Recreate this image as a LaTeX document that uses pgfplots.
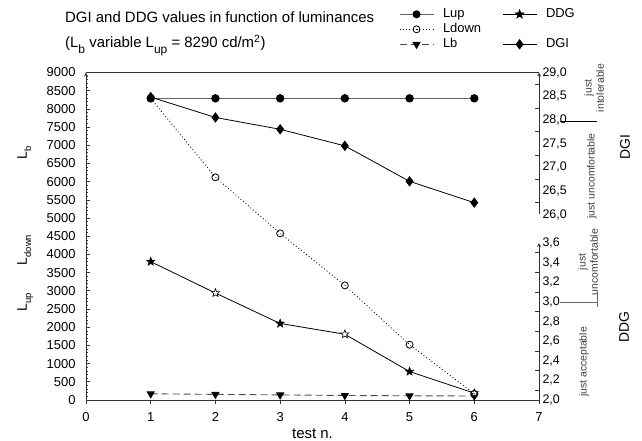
\documentclass[border=0pt]{standalone}
\usepackage{fontspec}
\setmainfont{Liberation Sans}
\usepackage{pgfplots}
\usepackage{pgfplotstable}
\pgfplotsset{compat=1.18}
\usetikzlibrary{plotmarks}

\pgfplotstableread{
x Lup Ldown Lb DGI DDG
1 8290 8290 170 28.48 3.41
2 8290 6120 155 28.05 3.09
3 8290 4580 140 27.80 2.78
4 8290 3150 125 27.45 2.67
5 8290 1520 115 26.70 2.29
6 8290 170 110 26.25 2.07
}\data

\pgfdeclareplotmark{fstar}{%
  \pgfpathmoveto{\pgfqpointpolar{90}{\pgfplotmarksize}}%
  \pgfpathlineto{\pgfqpointpolar{126}{0.42\pgfplotmarksize}}%
  \pgfpathlineto{\pgfqpointpolar{162}{\pgfplotmarksize}}%
  \pgfpathlineto{\pgfqpointpolar{198}{0.42\pgfplotmarksize}}%
  \pgfpathlineto{\pgfqpointpolar{234}{\pgfplotmarksize}}%
  \pgfpathlineto{\pgfqpointpolar{270}{0.42\pgfplotmarksize}}%
  \pgfpathlineto{\pgfqpointpolar{306}{\pgfplotmarksize}}%
  \pgfpathlineto{\pgfqpointpolar{342}{0.42\pgfplotmarksize}}%
  \pgfpathlineto{\pgfqpointpolar{18}{\pgfplotmarksize}}%
  \pgfpathlineto{\pgfqpointpolar{54}{0.42\pgfplotmarksize}}%
  \pgfpathclose
  \pgfusepathqfillstroke
}

\newcommand\sub[1]{\raisebox{-0.35em}{\fontsize{12}{12}\selectfont #1}}
\newcommand\ssub[1]{\raisebox{-0.3em}{\fontsize{9.5}{10}\selectfont #1}}
\definecolor{axgray}{gray}{0.2}

\pgfplotsset{
  every axis/.append style={
    scale only axis, width=453bp,
    xmin=0, xmax=7,
    axis line style={-, axgray, line width=0.8bp},
    tick style={axgray, line width=0.7bp},
    /pgf/number format/assume math mode=true,
    tick label style={font=\fontsize{12.5}{14}\selectfont},
  },
  legimg/.style={legend image code/.code={%
    \draw[mark repeat=2,mark phase=2,##1] plot coordinates {(0bp,0bp) (17bp,0bp) (34bp,0bp)};}},
}

\begin{document}
\begin{tikzpicture}
\useasboundingbox (-86bp,-41bp) rectangle (556bp,400bp);

% ---------- main luminance axis ----------
\begin{axis}[
  name=A, at={(0,0)}, anchor=south west,
  height=327.5bp,
  ymin=0, ymax=9000,
  axis x line=box, axis y line=left,
  xtick={0,...,7}, xtick pos=left, xtick align=outside,
  ytick={0,500,...,9000}, minor y tick num=4, ytick align=inside,
  major tick length=4bp, minor tick length=2.5bp,
  /pgf/number format/set thousands separator={},
  yticklabel style={xshift=-7bp, font=\fontsize{13}{14}\selectfont},
  xticklabel style={yshift=-5bp, font=\fontsize{13}{14}\selectfont},
  xlabel={test n.}, xlabel style={font=\fontsize{15}{17}\selectfont, yshift=0bp},
  legend columns=2, legend cell align=left,
  legend style={at={(0.684,1.205)}, anchor=north west, draw=none, fill=none,
    font=\fontsize{13}{14}\selectfont,
    nodes={inner sep=1bp, text height=9bp, text depth=2.5bp},
    row sep=1.5bp,
    /tikz/every odd column/.append style={column sep=8bp},
    /tikz/every even column/.append style={column sep=20bp}},
  legimg,
  clip=false,
]
\addlegendimage{gray!80!black, line width=1bp, mark=*, mark size=3.5bp, mark options={fill=black, draw=black}}
\addlegendentry{Lup}
\addlegendimage{black, line width=0.8bp, mark=fstar, mark size=4.3bp, mark options={fill=black, solid}}
\addlegendentry{DDG}
\addlegendimage{black, line width=0.8bp, dash pattern=on 0.9bp off 2.4bp, mark=o, mark size=3.5bp, mark options={solid, fill=white}}
\addlegendentry{Ldown}
\addlegendimage{empty legend}
\addlegendentry{}
\addlegendimage{black!70, line width=0.9bp, dash pattern=on 7bp off 4bp, mark=triangle*, mark size=4bp, mark options={solid, fill=black, draw=black, rotate=180}}
\addlegendentry{Lb}
\addlegendimage{black, line width=0.8bp, mark=diamond*, mark size=4.6bp, mark options={fill=black}}
\addlegendentry{DGI}

\addplot[forget plot, gray!80!black, line width=1.2bp, mark=*, mark size=3.6bp, mark options={fill=black, draw=black}] table[x=x, y=Lup] {\data};
\addplot[forget plot, black!70, line width=0.9bp, dash pattern=on 7bp off 4bp, mark=triangle*, mark size=4bp, mark options={solid, fill=black, draw=black, rotate=180}] table[x=x, y=Lb] {\data};
\end{axis}

% ---------- DDG axis (lower right) ----------
\begin{axis}[
  at={(453bp,0bp)}, anchor=south east,
  height=157bp,
  ymin=2, ymax=3.6,
  axis x line=none, axis y line=right,
  xtick=\empty,
  ytick={2,2.2,...,3.61}, minor y tick num=1,
  major tick length=0bp, minor tick length=4bp, ytick align=inside,
  /pgf/number format/.cd, use comma, fixed, fixed zerofill, precision=1,
]
\addplot[black, line width=0.8bp] table[x=x, y=DDG] {\data};
\addplot[only marks, black, mark=fstar, mark size=4.3bp, mark options={fill=black, line width=0.6bp}, x filter/.expression={mod(x,2)==1 ? x : nan}] table[x=x, y=DDG] {\data};
\addplot[only marks, black, mark=fstar, mark size=4.3bp, mark options={fill=white, line width=0.6bp}, x filter/.expression={mod(x,2)==0 ? x : nan}] table[x=x, y=DDG] {\data};
\end{axis}

% ---------- DGI axis (upper right) ----------
\begin{axis}[
  at={(453bp,327.5bp)}, anchor=north east,
  height=142bp,
  ymin=26, ymax=29,
  axis x line=none, axis y line=right,
  xtick=\empty,
  ytick={26,26.5,...,29.01}, minor y tick num=1,
  major tick length=0bp, minor tick length=4bp, ytick align=inside,
  /pgf/number format/.cd, use comma, fixed, fixed zerofill, precision=1,
]
\addplot[black, line width=0.8bp, mark=diamond*, mark size=4.6bp, mark options={fill=black}] table[x=x, y=DGI] {\data};
\end{axis}

% ---------- Ldown on top ----------
\begin{axis}[
  at={(0,0)}, anchor=south west,
  height=327.5bp, ymin=0, ymax=9000,
  hide axis,
]
\addplot[black, line width=0.8bp, dash pattern=on 0.9bp off 2.4bp, mark=o, mark size=3.5bp, mark options={solid, fill=white}] table[x=x, y=Ldown] {\data};
\end{axis}

% ---------- texts ----------
\node[anchor=base west, font=\fontsize{15}{17}\selectfont, inner sep=0] at (-21bp,377bp) {DGI and DDG values in function of luminances};
\node[anchor=base west, font=\fontsize{15}{17}\selectfont, inner sep=0] at (-21bp,352bp) {(L\sub{b} variable L\sub{up} = 8290 cd/m\textsuperscript{2})};

\node[rotate=90, anchor=base, font=\fontsize{14}{16}\selectfont, inner sep=0] at (-59bp,247bp) {L\ssub{b}};
\node[rotate=90, anchor=base, font=\fontsize{14}{16}\selectfont, inner sep=0] at (-59bp,150bp) {L\ssub{down}};
\node[rotate=90, anchor=base, font=\fontsize{14}{16}\selectfont, inner sep=0] at (-59bp,98bp) {L\ssub{up}};

\node[rotate=90, font=\fontsize{14}{16}\selectfont, inner sep=0] at (539bp,253bp) {DGI};
\node[rotate=90, font=\fontsize{14}{16}\selectfont, inner sep=0] at (538bp,73bp) {DDG};

\node[rotate=90, align=center, font=\fontsize{10.5}{12.5}\selectfont, inner sep=0, text=black!75] at (508bp,312bp) {just\\intolerable};
\node[rotate=90, font=\fontsize{10.5}{12.5}\selectfont, inner sep=0, text=black!75] at (506bp,224bp) {just uncomfortable};
\node[rotate=90, align=center, font=\fontsize{10.5}{12.5}\selectfont, inner sep=0, text=black!75] at (502bp,138bp) {just\\uncomfortable};
\node[rotate=90, font=\fontsize{10.5}{12.5}\selectfont, inner sep=0, text=black!75] at (498bp,38bp) {just acceptable};

\draw[black, line width=0.8bp] (474bp,279bp) -- (511bp,279bp);
\draw[black!60, line width=0.8bp] (474bp,98bp) -- (511bp,98bp);
\draw[black!60, line width=0.8bp] (511bp,93bp) -- (511bp,108bp);
\end{tikzpicture}
\end{document}
